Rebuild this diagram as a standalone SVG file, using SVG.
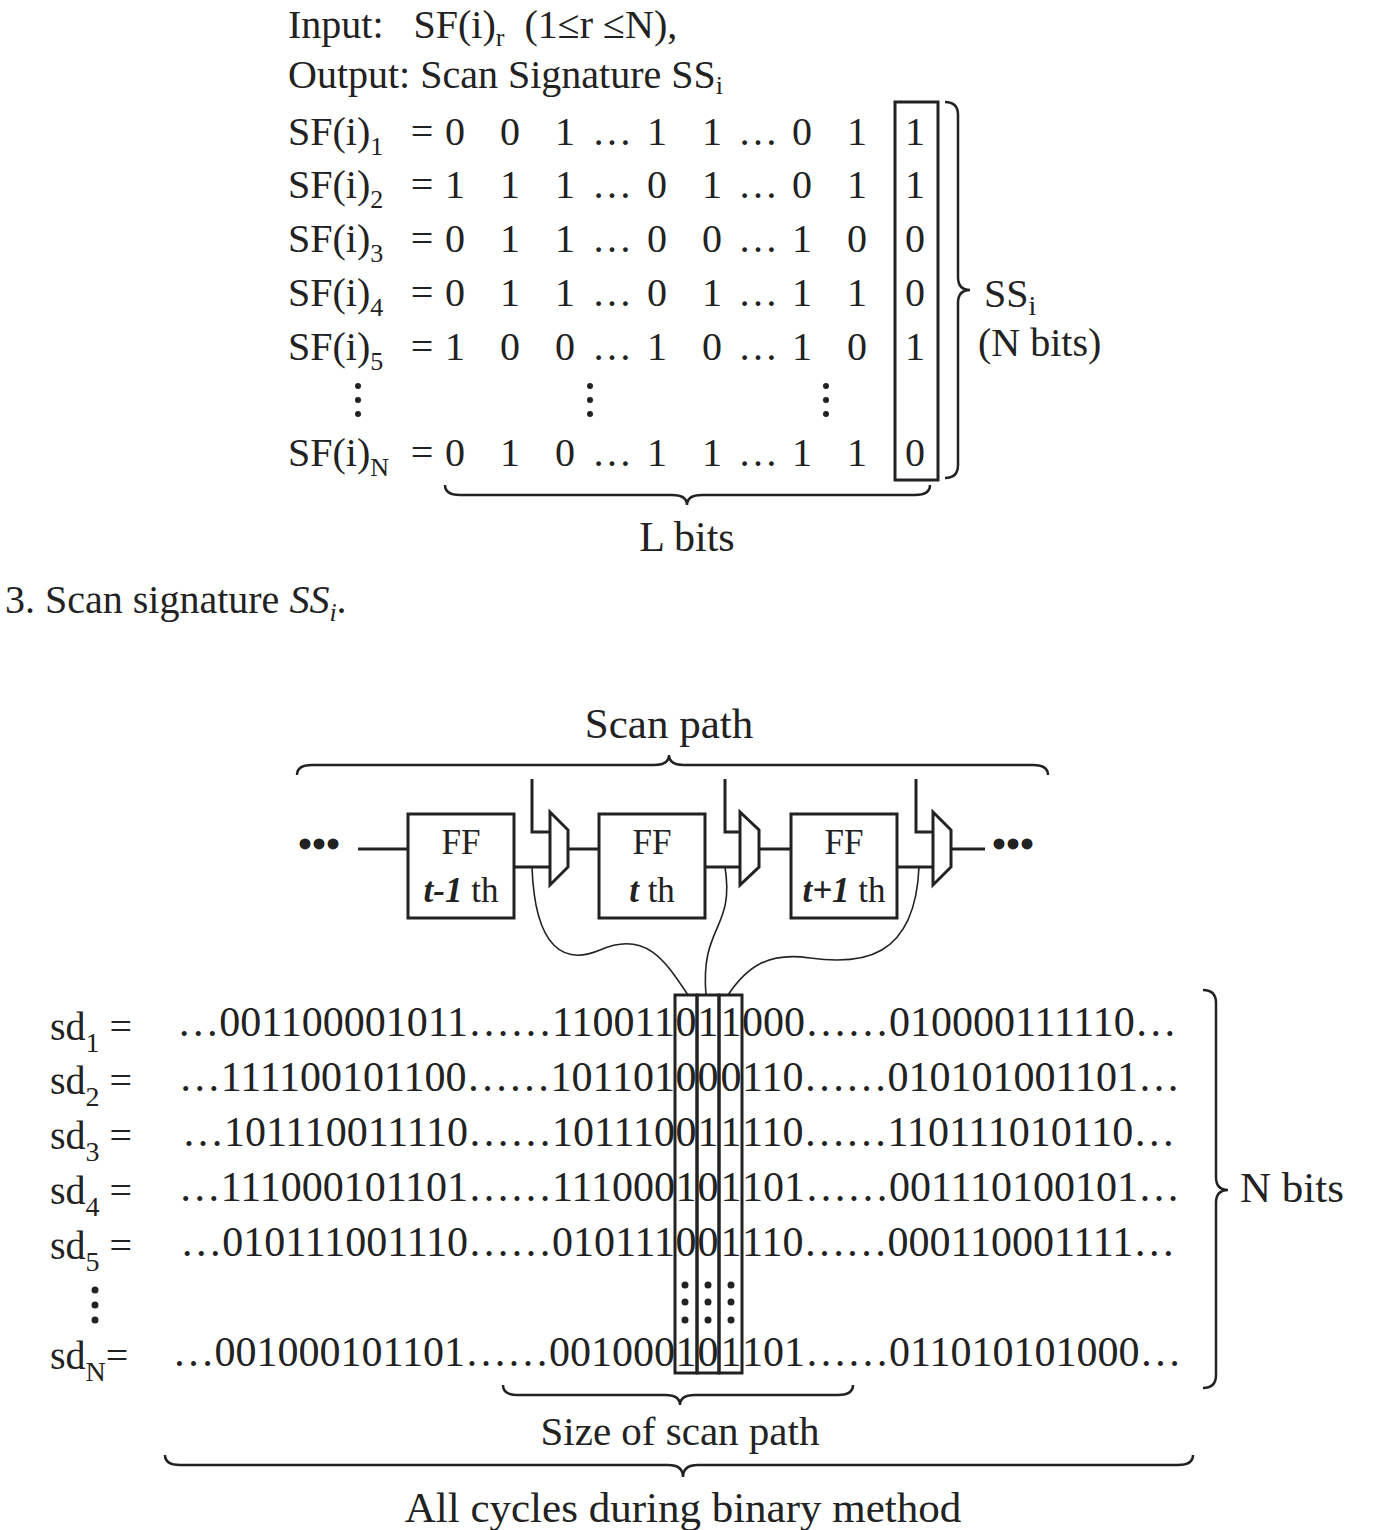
<svg xmlns="http://www.w3.org/2000/svg" width="1390" height="1530" viewBox="0 0 1390 1530">
<style>
text{font-family:"Liberation Serif","Times New Roman",serif;fill:#222}
.t{font-size:40px}.b{font-size:42px}.m{text-anchor:middle}
.ln{fill:none;stroke:#222;stroke-width:3}.th{fill:none;stroke:#222;stroke-width:1.6}
.br{fill:none;stroke:#222;stroke-width:2.5}
</style>
<rect width="1390" height="1530" fill="#fff"/>
<g id="header" class="t">
<text x="288" y="38" xml:space="preserve">Input:   SF(i)<tspan font-size="26" dy="8">r</tspan><tspan dy="-8">  (1≤r ≤N),</tspan></text>
<text x="288" y="88">Output: Scan Signature SS<tspan font-size="26" dy="6">i</tspan></text>
</g>
<g id="matrix" class="t">
<g id="labels">
<text x="288" y="145">SF(i)<tspan font-size="26" dy="10">1</tspan></text>
<text x="288" y="198">SF(i)<tspan font-size="26" dy="10">2</tspan></text>
<text x="288" y="252">SF(i)<tspan font-size="26" dy="10">3</tspan></text>
<text x="288" y="306">SF(i)<tspan font-size="26" dy="10">4</tspan></text>
<text x="288" y="360">SF(i)<tspan font-size="26" dy="10">5</tspan></text>
<text x="288" y="466">SF(i)<tspan font-size="26" dy="10">N</tspan></text>
</g>
<g class="m">
<text y="145"><tspan x="422">=</tspan><tspan x="455">0</tspan><tspan x="510">0</tspan><tspan x="565">1</tspan><tspan x="612">…</tspan><tspan x="657">1</tspan><tspan x="712">1</tspan><tspan x="758">…</tspan><tspan x="802">0</tspan><tspan x="857">1</tspan><tspan x="915">1</tspan></text>
<text y="198"><tspan x="422">=</tspan><tspan x="455">1</tspan><tspan x="510">1</tspan><tspan x="565">1</tspan><tspan x="612">…</tspan><tspan x="657">0</tspan><tspan x="712">1</tspan><tspan x="758">…</tspan><tspan x="802">0</tspan><tspan x="857">1</tspan><tspan x="915">1</tspan></text>
<text y="252"><tspan x="422">=</tspan><tspan x="455">0</tspan><tspan x="510">1</tspan><tspan x="565">1</tspan><tspan x="612">…</tspan><tspan x="657">0</tspan><tspan x="712">0</tspan><tspan x="758">…</tspan><tspan x="802">1</tspan><tspan x="857">0</tspan><tspan x="915">0</tspan></text>
<text y="306"><tspan x="422">=</tspan><tspan x="455">0</tspan><tspan x="510">1</tspan><tspan x="565">1</tspan><tspan x="612">…</tspan><tspan x="657">0</tspan><tspan x="712">1</tspan><tspan x="758">…</tspan><tspan x="802">1</tspan><tspan x="857">1</tspan><tspan x="915">0</tspan></text>
<text y="360"><tspan x="422">=</tspan><tspan x="455">1</tspan><tspan x="510">0</tspan><tspan x="565">0</tspan><tspan x="612">…</tspan><tspan x="657">1</tspan><tspan x="712">0</tspan><tspan x="758">…</tspan><tspan x="802">1</tspan><tspan x="857">0</tspan><tspan x="915">1</tspan></text>
<text y="466"><tspan x="422">=</tspan><tspan x="455">0</tspan><tspan x="510">1</tspan><tspan x="565">0</tspan><tspan x="612">…</tspan><tspan x="657">1</tspan><tspan x="712">1</tspan><tspan x="758">…</tspan><tspan x="802">1</tspan><tspan x="857">1</tspan><tspan x="915">0</tspan></text>
</g>
<g fill="#222"><circle cx="358" cy="386" r="3"/><circle cx="358" cy="400" r="3"/><circle cx="358" cy="414" r="3"/>
<circle cx="590" cy="386" r="3"/><circle cx="590" cy="400" r="3"/><circle cx="590" cy="414" r="3"/>
<circle cx="826" cy="386" r="3"/><circle cx="826" cy="400" r="3"/><circle cx="826" cy="414" r="3"/></g>
<rect x="895" y="102" width="43" height="378" class="ln"/>
<path class="br" d="M945,102 Q958,102 958,115 L958,277 Q958,290 970,290 Q958,290 958,303 L958,465 Q958,478 945,478"/>
<text x="984" y="307">SS<tspan font-size="28" dy="8">i</tspan></text>
<text x="978" y="356">(N bits)</text>
<path class="br" d="M445,485 Q445,495 460,495 L672,495 Q687,495 687,505 Q687,495 702,495 L915,495 Q930,495 930,485"/>
<text x="687" y="551" class="m" font-size="42">L bits</text>
</g>
<text x="5" y="613" style="font-size:40px">3. Scan signature <tspan font-style="italic">SS</tspan><tspan font-style="italic" font-size="26" dy="8">i</tspan><tspan dy="-8">.</tspan></text>
<g id="scanpath">
<text x="669" y="738" class="m" font-size="43">Scan path</text>
<path class="br" d="M297,775 Q297,765 312,765 L654,765 Q669,765 669,755 Q669,765 684,765 L1033,765 Q1048,765 1048,775"/>
<g font-size="40" font-weight="bold"><text x="298" y="858">•••</text><text x="992" y="858">•••</text></g>
</g>
<g id="ff1"><rect x="408" y="814" width="106" height="104" class="ln"/><text x="461" y="854" class="m" font-size="35">FF</text><text x="461" y="902" class="m" font-size="35"><tspan font-style="italic" font-weight="bold">t-1</tspan> th</text></g>
<g id="ff2"><rect x="599" y="814" width="106" height="104" class="ln"/><text x="652" y="854" class="m" font-size="35">FF</text><text x="652" y="902" class="m" font-size="35"><tspan font-style="italic" font-weight="bold">t</tspan> th</text></g>
<g id="ff3"><rect x="791" y="814" width="106" height="104" class="ln"/><text x="844" y="854" class="m" font-size="35">FF</text><text x="844" y="902" class="m" font-size="35"><tspan font-style="italic" font-weight="bold">t+1</tspan> th</text></g>
<g id="mux1"><path class="ln" d="M550,812 L568,830 L568,867 L550,885 Z"/></g>
<g id="mux2"><path class="ln" d="M740,812 L759,830 L759,867 L740,885 Z"/></g>
<g id="mux3"><path class="ln" d="M933,812 L951,830 L951,867 L933,885 Z"/></g>
<g id="connectors">
<path class="ln" d="M358,849 H408 M514,867 H550 M532,779 V832 H550 M568,849 H599 M705,867 H740 M725,779 V832 H740 M759,849 H791 M897,867 H933 M916,779 V832 H933 M951,849 H985"/>
<path class="th" d="M532,867 C535,950 565,965 600,950 C645,930 665,960 688,995"/>
<path class="th" d="M725,867 C735,930 700,925 706,995"/>
<path class="th" d="M919,867 C915,960 860,965 810,958 C770,952 748,965 728,995"/>
</g>
<g id="scandata" class="b">
<g font-size="40">
<text x="50" y="1040">sd<tspan font-size="28" dy="12">1</tspan><tspan dy="-12"> =</tspan></text>
<text x="50" y="1094">sd<tspan font-size="28" dy="12">2</tspan><tspan dy="-12"> =</tspan></text>
<text x="50" y="1149">sd<tspan font-size="28" dy="12">3</tspan><tspan dy="-12"> =</tspan></text>
<text x="50" y="1204">sd<tspan font-size="28" dy="12">4</tspan><tspan dy="-12"> =</tspan></text>
<text x="50" y="1259">sd<tspan font-size="28" dy="12">5</tspan><tspan dy="-12"> =</tspan></text>
<text x="50" y="1369">sd<tspan font-size="28" dy="12">N</tspan><tspan dy="-12">=</tspan></text>
</g>
<g text-anchor="end">
<text x="675" y="1036">…001100001011……110011</text>
<text x="675" y="1091">…111100101100……101101</text>
<text x="675" y="1146">…101110011110……101110</text>
<text x="675" y="1201">…111000101101……111000</text>
<text x="675" y="1256">…010111001110……010111</text>
<text x="675" y="1366">…001000101101……001000</text>
</g>
<g class="m">
<text y="1036"><tspan x="686">0</tspan><tspan x="708">1</tspan><tspan x="731">1</tspan></text>
<text y="1091"><tspan x="686">0</tspan><tspan x="708">0</tspan><tspan x="731">0</tspan></text>
<text y="1146"><tspan x="686">0</tspan><tspan x="708">1</tspan><tspan x="731">1</tspan></text>
<text y="1201"><tspan x="686">1</tspan><tspan x="708">0</tspan><tspan x="731">1</tspan></text>
<text y="1256"><tspan x="686">0</tspan><tspan x="708">0</tspan><tspan x="731">1</tspan></text>
<text y="1366"><tspan x="686">1</tspan><tspan x="708">0</tspan><tspan x="731">1</tspan></text>
</g>
<text x="742" y="1036">000……010000111110…</text>
<text x="742" y="1091">110……010101001101…</text>
<text x="742" y="1146">110……110111010110…</text>
<text x="742" y="1201">101……001110100101…</text>
<text x="742" y="1256">110……000110001111…</text>
<text x="742" y="1366">101……011010101000…</text>
<g fill="#222"><circle cx="95" cy="1290" r="3.5"/><circle cx="95" cy="1305" r="3.5"/><circle cx="95" cy="1320" r="3.5"/>
<circle cx="685" cy="1285" r="3.5"/><circle cx="685" cy="1302" r="3.5"/><circle cx="685" cy="1320" r="3.5"/>
<circle cx="708" cy="1285" r="3.5"/><circle cx="708" cy="1302" r="3.5"/><circle cx="708" cy="1320" r="3.5"/>
<circle cx="731" cy="1285" r="3.5"/><circle cx="731" cy="1302" r="3.5"/><circle cx="731" cy="1320" r="3.5"/></g>
<g class="ln"><rect x="675" y="995" width="22" height="378"/><rect x="697" y="995" width="22" height="378"/><rect x="719" y="995" width="23" height="378"/></g>
<path class="br" d="M1203,990 Q1216,990 1216,1003 L1216,1177 Q1216,1190 1228,1190 Q1216,1190 1216,1203 L1216,1375 Q1216,1388 1203,1388"/>
<text x="1240" y="1202" font-size="43">N bits</text>
<path class="br" d="M503,1385 Q503,1395 518,1395 L665,1395 Q680,1395 680,1405 Q680,1395 695,1395 L838,1395 Q853,1395 853,1385"/>
<text x="680" y="1445" class="m" font-size="41">Size of scan path</text>
<path class="br" d="M165,1455 Q165,1465 180,1465 L668,1465 Q683,1465 683,1477 Q683,1465 698,1465 L1178,1465 Q1193,1465 1193,1455"/>
<text x="683" y="1522" class="m" font-size="43">All cycles during binary method</text>
</g>
</svg>
